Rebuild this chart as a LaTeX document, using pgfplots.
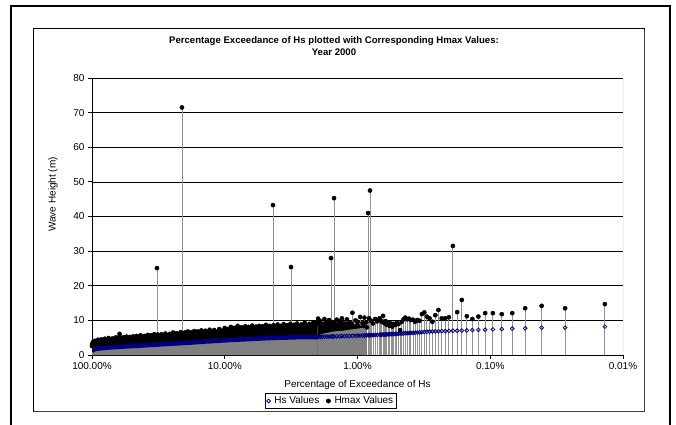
\documentclass[border=0pt]{standalone}
\usepackage{fontspec}
\setmainfont{Liberation Sans}
\usepackage{pgfplots}
\usepackage{pgfplotstable}
\pgfplotsset{compat=1.18}
\definecolor{navyblue}{RGB}{0,0,128}
\definecolor{dropgray}{RGB}{145,145,145}
\definecolor{areagray}{RGB}{128,128,128}
\definecolor{bordergray}{RGB}{150,150,150}
\pgfplotsset{mlegend/.style={legend image code/.code={\draw[##1] plot coordinates {(0pt,0pt)};}}}

% discrete points: percentage of exceedance, Hs, Hmax
\pgfplotstableread{
p hs hmax
0.0137 8.2 14.7
0.0273 7.9 13.5
0.0410 7.9 14.2
0.0546 7.7 13.5
0.0683 7.6 12.1
0.0819 7.5 11.8
0.0956 7.4 12.1
0.1092 7.3 12.1
0.1229 7.25 11.1
0.1365 7.2 10.4
0.1502 7.1 11.2
0.1638 7.05 15.9
0.1775 7.0 12.4
0.1911 7.0 31.5
0.2048 6.95 10.9
0.2184 6.9 10.6
0.2321 6.9 10.6
0.2457 6.85 13.0
0.2594 6.85 11.5
0.2730 6.8 9.6
0.2867 6.75 10.6
0.3003 6.7 11.1
0.3140 6.65 12.3
0.3276 6.6 11.8
0.3413 6.55 9.9
0.3549 6.5 10.1
0.3686 6.45 9.6
0.3822 6.4 10.2
0.3959 6.4 10.1
0.4095 6.35 10.5
0.4232 6.3 10.3
0.4368 6.3 10.8
0.4505 6.25 10.3
0.4641 6.2 9.6
0.4778 6.2 7.2
0.4914 6.15 8.9
0.5051 6.1 9.3
0.5187 6.1 8.7
0.5324 6.05 9.0
0.5460 6.05 8.2
0.5597 6.0 9.1
0.5733 6.0 8.4
0.5870 6.0 9.4
0.6006 5.95 8.7
0.6143 5.95 9.8
0.6279 5.9 9.2
0.6416 5.9 11.3
0.6552 5.9 9.6
0.6689 5.85 10.0
0.6825 5.85 10.6
0.7098 5.8 9.7
0.7371 5.8 10.4
0.7644 5.75 9.1
0.7917 5.75 9.9
0.8054 5.75 47.5
0.8190 5.7 10.6
0.8327 5.7 41.0
0.8600 5.7 9.4
0.8870 5.65 10.8
0.9150 5.65 9.2
0.9560 5.6 11.0
0.9960 5.6 9.6
1.037 5.55 10.0
1.092 5.55 12.2
1.147 5.5 9.4
1.201 5.5 10.3
1.256 5.45 9.1
1.310 5.45 10.6
1.365 5.4 9.8
1.433 5.4 10.2
1.502 5.35 45.3
1.542 5.35 9.5
1.583 5.35 28.0
1.638 5.3 10.1
1.706 5.3 9.3
1.775 5.3 10.4
1.843 5.25 9.0
1.911 5.25 9.8
1.979 5.2 10.5
2.048 5.2 9.2
3.17 5.1 25.4
4.33 4.95 43.3
21.0 3.45 71.5
32.4 3.0 25.1
}\pts

% dense part: percentage, Hs band, top of the Hmax mass
\pgfplotstableread{
p hs htop
100 0.8 2.6
99.5 1.2 3.3
98 1.5 3.8
95 1.7 4.1
90 1.85 4.4
85 1.95 4.5
80 2.05 4.7
75 2.15 4.9
70 2.25 4.8
66 2.3 5.1
62 2.35 6.1
58 2.45 5.1
55 2.5 5.3
52 2.55 5.2
49 2.6 5.4
46 2.65 5.5
43 2.7 5.7
40 2.8 5.5
38 2.85 5.8
36 2.9 5.7
34 2.95 6.0
32 3.0 5.9
30 3.1 6.0
28 3.15 6.2
26 3.25 6.1
24.5 3.3 6.5
23 3.35 6.3
21.5 3.45 6.6
20 3.5 6.5
19 3.55 6.8
18 3.6 6.6
17 3.65 6.9
16 3.75 6.8
15 3.8 7.1
14 3.9 7.0
13 3.95 7.3
12 4.05 7.2
11 4.15 7.5
10 4.25 7.8
9.5 4.3 7.5
9 4.35 8.1
8.5 4.4 7.8
8 4.45 8.4
7.5 4.5 8.0
7 4.55 8.3
6.6 4.6 8.1
6.2 4.65 8.5
5.8 4.7 8.2
5.5 4.75 8.4
5.2 4.8 8.3
4.9 4.85 8.7
4.6 4.9 8.4
4.3 4.95 8.6
4.0 5.0 8.8
3.8 5.0 8.4
3.6 5.05 8.9
3.4 5.05 8.6
3.2 5.1 9.0
3.0 5.1 8.7
2.85 5.15 9.1
2.65 5.15 8.8
2.5 5.2 9.3
2.3 5.2 9.0
2.15 5.2 9.4
2.0 5.2 9.1
}\dense

\pgfplotstableread{
p hlow htop
2.0 5.2 9.1
1.9 5.9 8.9
1.75 6.3 9.2
1.6 6.6 9.0
1.5 6.8 9.3
1.4 6.9 8.9
1.3 7.0 9.1
1.2 7.2 8.8
1.1 7.4 9.0
1.0 7.6 8.7
0.9 7.9 8.4
0.85 8.0 8.0
}\semi

\begin{document}
\begin{tikzpicture}
\useasboundingbox (0,0) rectangle (676pt,424pt);
\fill[white] (0,0) rectangle (676pt,424pt);
\draw[line width=1.8pt] (11pt,-5pt) -- (11pt,418pt) -- (670pt,418pt) -- (670pt,-5pt);
\draw[line width=1pt] (33pt,13pt) rectangle (644pt,395pt);
\draw[line width=1pt, black!75] (644.8pt,394pt) -- (644.8pt,12.2pt) -- (34pt,12.2pt);
\begin{axis}[
  at={(92pt,69pt)}, anchor=south west,
  width=531pt, height=277pt, scale only axis,
  xmin=-2, xmax=2, ymin=0, ymax=80,
  xtick={-2,-1,0,1,2},
  xticklabels={100.00\%,10.00\%,1.00\%,0.10\%,0.01\%},
  ytick={0,10,...,80},
  yticklabels={0,10,20,30,40,50,60,70,80},
  axis lines=left,
  axis line style={-, line width=0.8pt, black},
  x axis line style={-}, y axis line style={-},
  ymajorgrids, grid style={black, line width=0.7pt},
  tick align=outside, major tick length=4pt,
  tick style={black, line width=0.8pt},
  ticklabel style={font=\fontsize{10}{12}\selectfont},
  xlabel={Percentage of Exceedance of Hs},
  ylabel={Wave Height (m)},
  label style={font=\fontsize{10}{12}\selectfont},
  xlabel style={at={(axis description cs:0.5,-0.108)}, anchor=center},
  ylabel style={at={(axis description cs:-0.0734,0.58)}, anchor=center},
  title={Percentage Exceedance of Hs plotted with Corresponding Hmax Values:\\Year 2000},
  title style={at={(axis description cs:0.4557,1.094)}, anchor=center, align=center,
    font=\bfseries\fontsize{9.6}{12.6}\selectfont},
  legend style={at={(axis description cs:0.45,-0.166)}, anchor=center,
    draw=black, line width=0.6pt, font=\fontsize{10}{11}\selectfont,
    inner sep=1pt, /tikz/every even column/.append style={column sep=5pt},
    /tikz/every odd column/.append style={column sep=2pt}},
  legend columns=2,
]
% drop lines
\addplot[ycomb, draw=dropgray, line width=0.9pt, forget plot]
  table[x expr={-ln(\thisrow{p})/ln(10)}, y=hmax]{\pts};
% dense mass of Hmax markers
\addplot[draw=none, fill=black, forget plot]
  table[x expr={-ln(\thisrow{p})/ln(10)}, y=htop]{\dense} \closedcycle;
\addplot[draw=none, fill=black, forget plot]
  table[x expr={-ln(\thisrow{p})/ln(10)}, y=htop]{\semi} \closedcycle;
% dense drop lines
\addplot[draw=none, fill=areagray, forget plot]
  table[x expr={-ln(\thisrow{p})/ln(10)}, y=hs]{\dense} \closedcycle;
\addplot[draw=none, fill=areagray, forget plot]
  table[x expr={-ln(\thisrow{p})/ln(10)}, y=hlow]{\semi} \closedcycle;
% dense band of Hs markers
\addplot[navyblue, line width=4.5pt, forget plot]
  table[x expr={-ln(\thisrow{p})/ln(10)}, y=hs]{\dense};
% top of the dense Hmax markers
\addplot[only marks, mark=*, mark size=2.1pt, black, forget plot]
  table[x expr={-ln(\thisrow{p})/ln(10)}, y=htop]{\dense};
\addplot[only marks, mark=*, mark size=2.1pt, black, forget plot]
  table[x expr={-ln(\thisrow{p})/ln(10)}, y=htop]{\semi};
% discrete markers
\addplot[only marks, mark=o, mark size=1.9pt, navyblue, mark options={line width=0.8pt}, mlegend]
  table[x expr={-ln(\thisrow{p})/ln(10)}, y=hs]{\pts};
\addlegendentry{Hs Values}
\addplot[only marks, mark=*, mark size=2.1pt, black, mlegend]
  table[x expr={-ln(\thisrow{p})/ln(10)}, y=hmax]{\pts};
\addlegendentry{Hmax Values}
\draw[bordergray, line width=1pt] (rel axis cs:1,0) -- (rel axis cs:1,1);
\end{axis}
\end{tikzpicture}
\end{document}
